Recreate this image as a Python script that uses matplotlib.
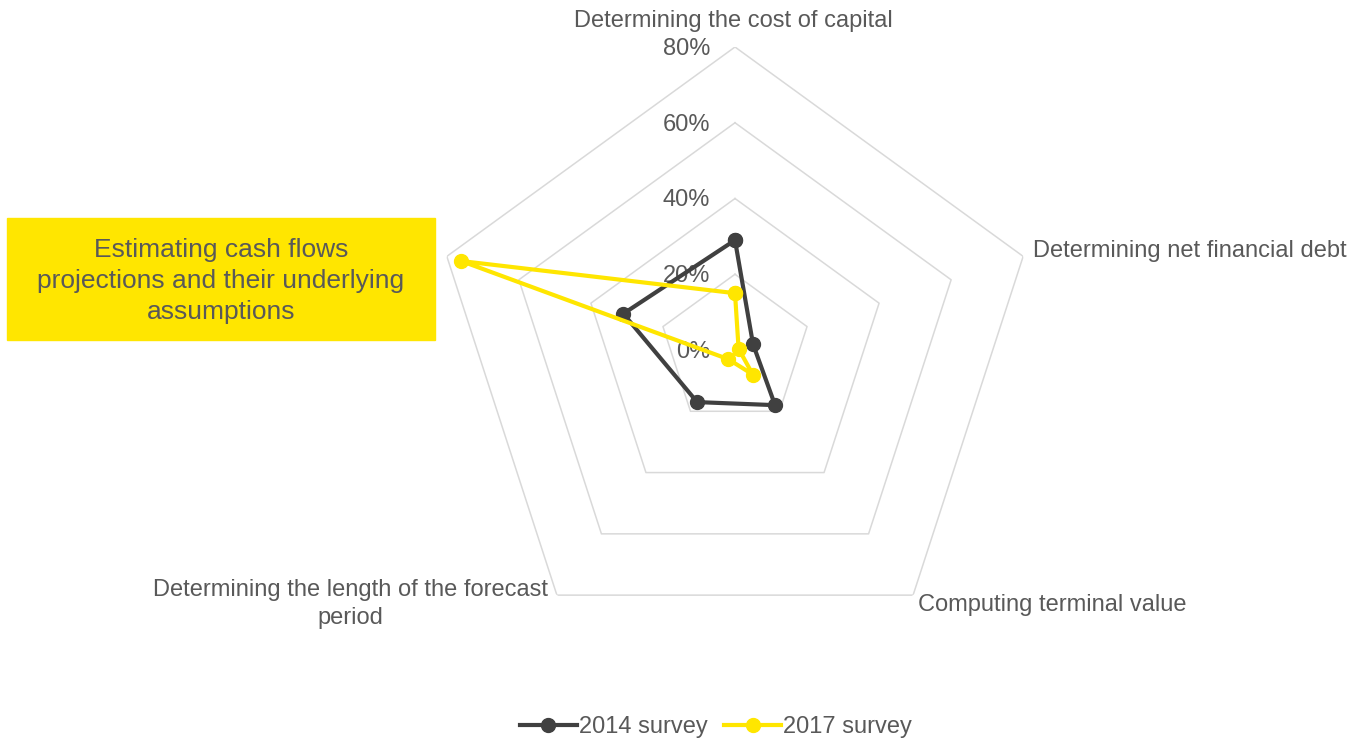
import numpy as np
import matplotlib.pyplot as plt
from matplotlib.patches import Rectangle

plt.rcParams['font.family'] = ['Liberation Sans', 'DejaVu Sans']

categories = ['Determining the cost of capital', 'Determining net financial debt',
              'Computing terminal value', 'Determining the length of the forecast\nperiod',
              'Estimating cash flows\nprojections and their underlying\nassumptions']
survey_2014 = [29, 5, 18, 17, 31]
survey_2017 = [15, 1, 8, 3, 76]
rings = [20, 40, 60, 80]
tick_labels = ['0%', '20%', '40%', '60%', '80%']

dark = '#404040'
yellow = '#FFE600'
grey = '#595959'
fs = 17

fig = plt.figure(figsize=(13.65, 7.4), dpi=100)
# centre at (735, 350) px, 80% ring radius 303 px
ax = fig.add_axes([432 / 1365, 87 / 740, 606 / 1365, 606 / 740], projection='polar')
ax.set_theta_offset(np.pi / 2)
ax.set_theta_direction(-1)
ax.set_ylim(0, 80)
ax.grid(False)
ax.set_xticks([])
ax.set_yticks([])
ax.spines['polar'].set_visible(False)
ax.patch.set_facecolor('none')

theta = np.linspace(0, 2 * np.pi, len(categories), endpoint=False)
theta_c = np.append(theta, theta[0])

for r in rings:
    ax.plot(theta_c, [r] * len(theta_c), color='#D9D9D9', lw=1.1, zorder=1)

for i, lab in enumerate(tick_labels):
    ax.annotate(lab, (0, i * 20), xytext=(-25, -2), textcoords='offset pixels',
                ha='right', va='center', fontsize=fs, color=grey, zorder=2)

ax.plot(theta_c, survey_2014 + survey_2014[:1], color=dark, lw=3, marker='o',
        ms=10, label='2014 survey', zorder=3)
ax.plot(theta_c, survey_2017 + survey_2017[:1], color=yellow, lw=3, marker='o',
        ms=10, label='2017 survey', zorder=4)

# category labels around the outer ring
offsets = [((-2, 26), 'center', 'center'),
           ((10, 5), 'left', 'center'),
           ((5, -10), 'left', 'center'),
           ((-9, -9), 'right', 'center')]
for i, (off, ha, va) in enumerate(offsets):
    ax.annotate(categories[i], (theta[i], 80), xytext=off, textcoords='offset pixels',
                ha=ha, va=va, fontsize=fs, color=grey, multialignment='center',
                linespacing=1.33, annotation_clip=False)

# highlighted category in a yellow box
fig.add_artist(Rectangle((7 / 1365, 1 - 340 / 740), 428 / 1365, 122 / 740,
                         transform=fig.transFigure, color=yellow, zorder=0))
fig.text(221 / 1365, 1 - 281 / 740, categories[4], ha='center', va='center',
         fontsize=19, color=grey, linespacing=1.38, multialignment='center')

fig.legend(loc='center', bbox_to_anchor=(716 / 1365, 1 - 727 / 740), ncol=2,
           frameon=False, fontsize=fs, labelcolor=grey, handlelength=2.4,
           handletextpad=0.1, columnspacing=0.7)

fig.savefig('out.png', dpi=100)
